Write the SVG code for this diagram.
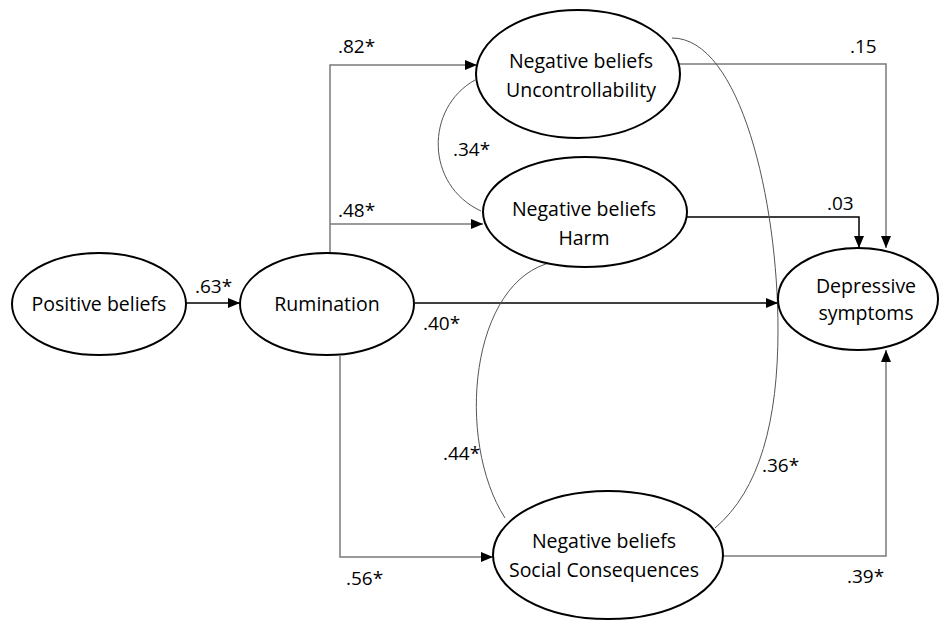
<svg xmlns="http://www.w3.org/2000/svg" width="944" height="621" viewBox="0 0 944 621">
<defs>
<marker id="ah" viewBox="0 0 12 10" refX="12" refY="5" markerWidth="12" markerHeight="10" markerUnits="userSpaceOnUse" orient="auto">
<path d="M0,0 L12,5 L0,10 Z" fill="#000"/>
</marker>
<style>
.node ellipse{fill:#fff;stroke:#000;stroke-width:2}
text{font-family:"Open Sans","Liberation Sans",sans-serif;font-size:19px;fill:#000}
.nt{text-anchor:middle;font-size:19.5px}
.c{fill:none;stroke:#000;stroke-width:1.5}
.g{fill:none;stroke:#7a7a7a;stroke-width:1.5}
.cv{fill:none;stroke:#555;stroke-width:1}
</style>
</defs>
<rect width="944" height="621" fill="#fff"/>
<g id="connectors">
<path class="c" d="M186,303 L240,303" marker-end="url(#ah)"/>
<path class="g" d="M330,253 L330,65 L477,65" marker-end="url(#ah)"/>
<path class="g" d="M330,224 L483,224" marker-end="url(#ah)"/>
<path class="g" d="M340,356 L340,557 L493,557" marker-end="url(#ah)"/>
<path class="c" d="M415,303 L778,303" marker-end="url(#ah)"/>
<path class="g" d="M679,64 L886,64 L886,248" marker-end="url(#ah)"/>
<path class="c" d="M687,217 L859,217 L859,248" marker-end="url(#ah)"/>
<path class="g" d="M723,556 L886,556 L886,350" marker-end="url(#ah)"/>
<path class="cv" d="M475,80 C425,108 425,185 481,211"/>
<path class="cv" d="M553,262 C470,280 455,440 505,518"/>
<path class="cv" d="M672,38 C740,38 778,200 778,330 C778,420 760,490 715,528"/>
<text x="195" y="293">.63*</text>
<text x="423" y="330">.40*</text>
<text x="338" y="53">.82*</text>
<text x="338" y="217">.48*</text>
<text x="453" y="156">.34*</text>
<text x="850" y="53">.15</text>
<text x="827" y="210">.03</text>
<text x="443" y="460">.44*</text>
<text x="346" y="585">.56*</text>
<text x="762" y="472">.36*</text>
<text x="847" y="583">.39*</text>
</g>
<g id="positive" class="node">
<ellipse cx="99" cy="304" rx="87" ry="51"/>
<text class="nt" x="99" y="311">Positive beliefs</text>
</g>
<g id="rumination" class="node">
<ellipse cx="327" cy="304" rx="87" ry="51"/>
<text class="nt" x="327" y="311">Rumination</text>
</g>
<g id="uncontrollability" class="node">
<ellipse cx="578" cy="74" rx="102" ry="64"/>
<text class="nt" x="581" y="68">Negative beliefs</text>
<text class="nt" x="581" y="97">Uncontrollability</text>
</g>
<g id="harm" class="node">
<ellipse cx="585" cy="212" rx="102" ry="55"/>
<text class="nt" x="584" y="216">Negative beliefs</text>
<text class="nt" x="584" y="245">Harm</text>
</g>
<g id="social" class="node">
<ellipse cx="608" cy="555" rx="115" ry="64"/>
<text class="nt" x="604" y="548">Negative beliefs</text>
<text class="nt" x="604" y="577">Social Consequences</text>
</g>
<g id="depressive" class="node">
<ellipse cx="858" cy="299" rx="80" ry="51"/>
<text class="nt" x="866" y="293">Depressive</text>
<text class="nt" x="866" y="320">symptoms</text>
</g>
</svg>
